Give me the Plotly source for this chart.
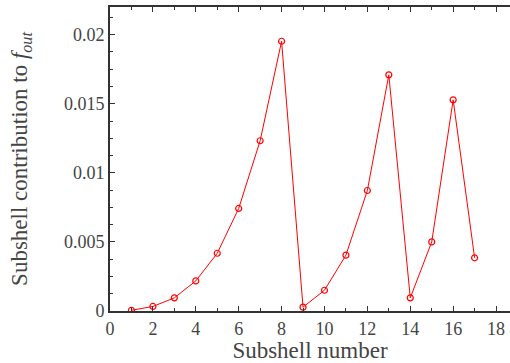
import plotly.graph_objects as go

subshell = list(range(1, 18))
contribution = [0.00005, 0.00033, 0.00095, 0.00218, 0.00418, 0.00742, 0.01232,
                0.01952, 0.00028, 0.00150, 0.00404, 0.00872, 0.01709, 0.00095,
                0.00500, 0.01528, 0.00385]
xtick_vals = [0, 2, 4, 6, 8, 10, 12, 14, 16, 18]
ytick_vals = [0, 0.005, 0.01, 0.015, 0.02]
ytick_text = ["0", "0.005", "0.01", "0.015", "0.02"]

FONT = "'Liberation Serif', 'Times New Roman', serif"

fig = go.Figure()
fig.add_trace(go.Scatter(
    x=subshell, y=contribution, mode="lines+markers",
    line=dict(color="#ff0000", width=1),
    marker=dict(symbol="circle-open", size=6, color="#ff0000", line=dict(width=1.2)),
    showlegend=False,
))

fig.update_layout(
    width=510, height=363,
    margin=dict(l=110, r=0, t=7, b=52),
    paper_bgcolor="white", plot_bgcolor="white",
    font=dict(family=FONT, color="#444444", size=18),
    xaxis=dict(
        range=[0, 18.65], tickvals=xtick_vals,
        ticks="inside", ticklen=5, tickwidth=1, tickcolor="#333",
        showline=True, linecolor="#333", linewidth=2, mirror="ticks",
        showgrid=False, zeroline=False,
        minor=dict(dtick=1, tick0=0, ticks="inside", ticklen=3, tickcolor="#333"),
        title=dict(text="Subshell number", font=dict(size=23, family=FONT), standoff=4),
        tickfont=dict(size=18, family=FONT),
    ),
    yaxis=dict(
        range=[0, 0.022], tickvals=ytick_vals, ticktext=ytick_text,
        ticks="inside", ticklen=5, tickwidth=1, tickcolor="#333",
        showline=True, linecolor="#333", linewidth=2,
        showgrid=False, zeroline=False,
        minor=dict(dtick=0.00125, tick0=0, ticks="inside", ticklen=3, tickcolor="#333"),
        title=dict(text="Subshell contribution to <i>f</i><sub><i>out</i></sub>",
                   font=dict(size=23, family=FONT), standoff=30),
        tickfont=dict(size=18, family=FONT),
    ),
)

fig.write_html("out.html")
